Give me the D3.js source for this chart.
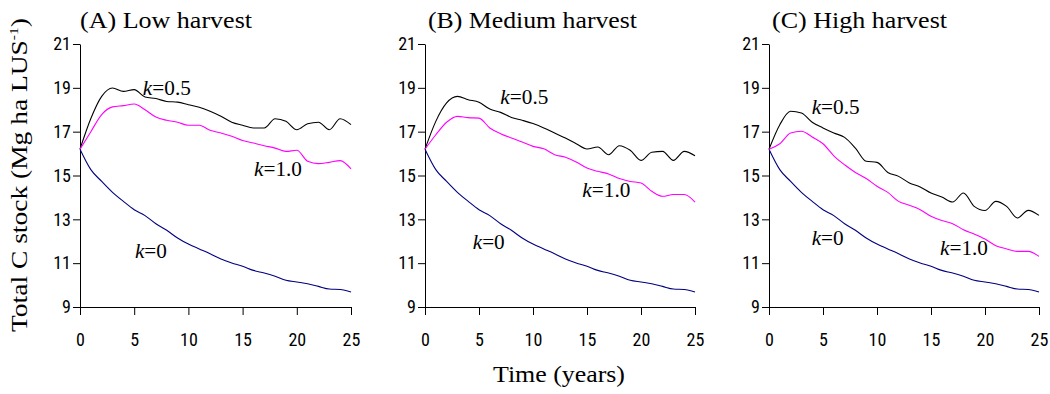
<!DOCTYPE html>
<html>
<head>
<meta charset="utf-8">
<script src="https://cdn.jsdelivr.net/npm/d3@7"></script>
<style>
body { margin: 0; background: #fff; }
.tick text { font-family: "Roboto Condensed", "Liberation Sans", sans-serif; font-size: 18px; fill: #000; }
.serif { font-family: "Liberation Serif", "Times New Roman", serif; fill: #000; }
</style>
</head>
<body>
<svg id="chart" width="1050" height="394"></svg>
<script>
// years 0..25
const years = d3.range(0, 26);
const xTicks = [0, 5, 10, 15, 20, 25];
const yTicks = [9, 11, 13, 15, 17, 19, 21];
const panelTitles = ["(A) Low harvest", "(B) Medium harvest", "(C) High harvest"];
const seriesNames = ["k=0", "k=0.5", "k=1.0"];

// k=0 is the same in all three panels
const k0 = [16.2, 15.27, 14.73, 14.23, 13.82, 13.44, 13.17, 12.8, 12.5, 12.15, 11.87, 11.65, 11.43,
  11.19, 11.01, 10.86, 10.67, 10.55, 10.4, 10.22, 10.14, 10.06, 9.94, 9.82, 9.8, 9.68];

const lowK05 = [16.2, 17.6, 18.61, 18.99, 18.84, 18.92, 18.58, 18.51, 18.38, 18.35, 18.23, 18.11, 17.93,
  17.7, 17.43, 17.29, 17.17, 17.17, 17.59, 17.47, 17.09, 17.36, 17.43, 17.09, 17.59, 17.32];
const lowK10 = [16.2, 17.0, 17.78, 18.13, 18.19, 18.26, 18.0, 17.67, 17.52, 17.43, 17.29, 17.29, 17.06,
  16.94, 16.79, 16.6, 16.48, 16.36, 16.25, 16.1, 16.15, 15.65, 15.54, 15.6, 15.68, 15.3];

const medK05 = [16.2, 17.47, 18.31, 18.61, 18.46, 18.34, 18.03, 17.88, 17.65, 17.52, 17.37, 17.17, 16.94,
  16.71, 16.45, 16.21, 16.3, 15.95, 16.36, 16.15, 15.69, 16.06, 16.1, 15.69, 16.1, 15.9];
const medK10 = [16.2, 16.86, 17.43, 17.7, 17.64, 17.62, 17.17, 16.91, 16.71, 16.53, 16.33, 16.22, 15.95,
  15.83, 15.62, 15.34, 15.19, 15.07, 14.86, 14.73, 14.66, 14.28, 14.05, 14.13, 14.13, 13.79];

const highK05 = [16.2, 17.32, 17.93, 17.85, 17.43, 17.17, 16.94, 16.74, 16.25, 15.65, 15.6, 15.14, 14.96,
  14.66, 14.48, 14.2, 14.02, 13.79, 14.2, 13.59, 13.4, 13.82, 13.59, 13.06, 13.41, 13.18];
const highK10 = [16.2, 16.45, 16.94, 17.02, 16.76, 16.45, 15.9, 15.49, 15.14, 14.86, 14.51, 14.23, 13.82,
  13.64, 13.44, 13.14, 12.95, 12.8, 12.53, 12.33, 12.1, 11.8, 11.65, 11.54, 11.54, 11.31];

// label anchors in data units [year, stock] for k=0, k=0.5, k=1.0
const lowLabels = [[5.07, 11.24], [5.8, 18.67], [16.05, 14.98]];
const medLabels = [[4.42, 11.65], [6.98, 18.26], [14.57, 14.02]];
const highLabels = [[3.95, 11.83], [3.95, 17.8], [15.83, 11.37]];

const colors = ["#000080", "#000000", "#ff00ff"];

const panels = [
  { title: panelTitles[0], series: [k0, lowK05, lowK10], labels: lowLabels, left: 80, right: 351, titleW: 172 },
  { title: panelTitles[1], series: [k0, medK05, medK10], labels: medLabels, left: 425, right: 695, titleW: 209 },
  { title: panelTitles[2], series: [k0, highK05, highK10], labels: highLabels, left: 769, right: 1039, titleW: 175 }
];

const plotTop = 44, plotBottom = 307;
const svg = d3.select("#chart");

panels.forEach((p, pi) => {
  const x = d3.scaleLinear().domain([0, 25]).range([p.left, p.right]);
  const y = d3.scaleLinear().domain([9, 21]).range([plotBottom, plotTop]);
  const g = svg.append("g");

  g.append("g")
    .attr("transform", "translate(0," + plotBottom + ")")
    .call(d3.axisBottom(x).tickValues(xTicks).tickSize(8).tickPadding(18).tickSizeOuter(0))
    .call(a => a.selectAll("line,path").attr("stroke", "#000"));

  g.append("g")
    .attr("transform", "translate(" + p.left + ",0)")
    .call(d3.axisLeft(y).tickValues(yTicks).tickSize(7).tickPadding(2).tickSizeOuter(0))
    .call(a => a.selectAll("line,path").attr("stroke", "#000"));

  const line = d3.line()
    .x((d, i) => x(years[i]))
    .y(d => y(d))
    .curve(d3.curveMonotoneX);

  p.series.forEach((s, si) => {
    g.append("path")
      .datum(s)
      .attr("fill", "none")
      .attr("stroke", colors[si])
      .attr("stroke-width", 1.1)
      .attr("d", line);
  });

  p.labels.forEach((l, li) => {
    const t = g.append("text")
      .attr("class", "serif")
      .attr("x", x(l[0]))
      .attr("y", y(l[1]))
      .attr("font-size", 20)
      .attr("textLength", li === 0 ? 32 : 48)
      .attr("lengthAdjust", "spacingAndGlyphs");
    t.append("tspan").attr("font-style", "italic").text("k");
    t.append("tspan").text(seriesNames[li].slice(1));
  });

  g.append("text")
    .attr("class", "serif")
    .attr("x", p.left + (pi === 0 ? 0 : 3))
    .attr("y", 28)
    .attr("font-size", 23)
    .attr("textLength", p.titleW)
    .attr("lengthAdjust", "spacingAndGlyphs")
    .text(p.title);
});

// y axis title
const yt = svg.append("text")
  .attr("class", "serif")
  .attr("transform", "translate(27,332) rotate(-90)")
  .attr("font-size", 23)
  .attr("textLength", 314)
  .attr("lengthAdjust", "spacingAndGlyphs");
yt.append("tspan").text("Total C stock (Mg ha LUS");
yt.append("tspan").attr("font-size", 13).attr("dy", -9).text("-1");
yt.append("tspan").attr("dy", 9).text(")");

svg.append("text")
  .attr("class", "serif")
  .attr("x", 559)
  .attr("y", 382)
  .attr("text-anchor", "middle")
  .attr("font-size", 24)
  .attr("textLength", 132)
  .attr("lengthAdjust", "spacingAndGlyphs")
  .text("Time (years)");
</script>
</body>
</html>
